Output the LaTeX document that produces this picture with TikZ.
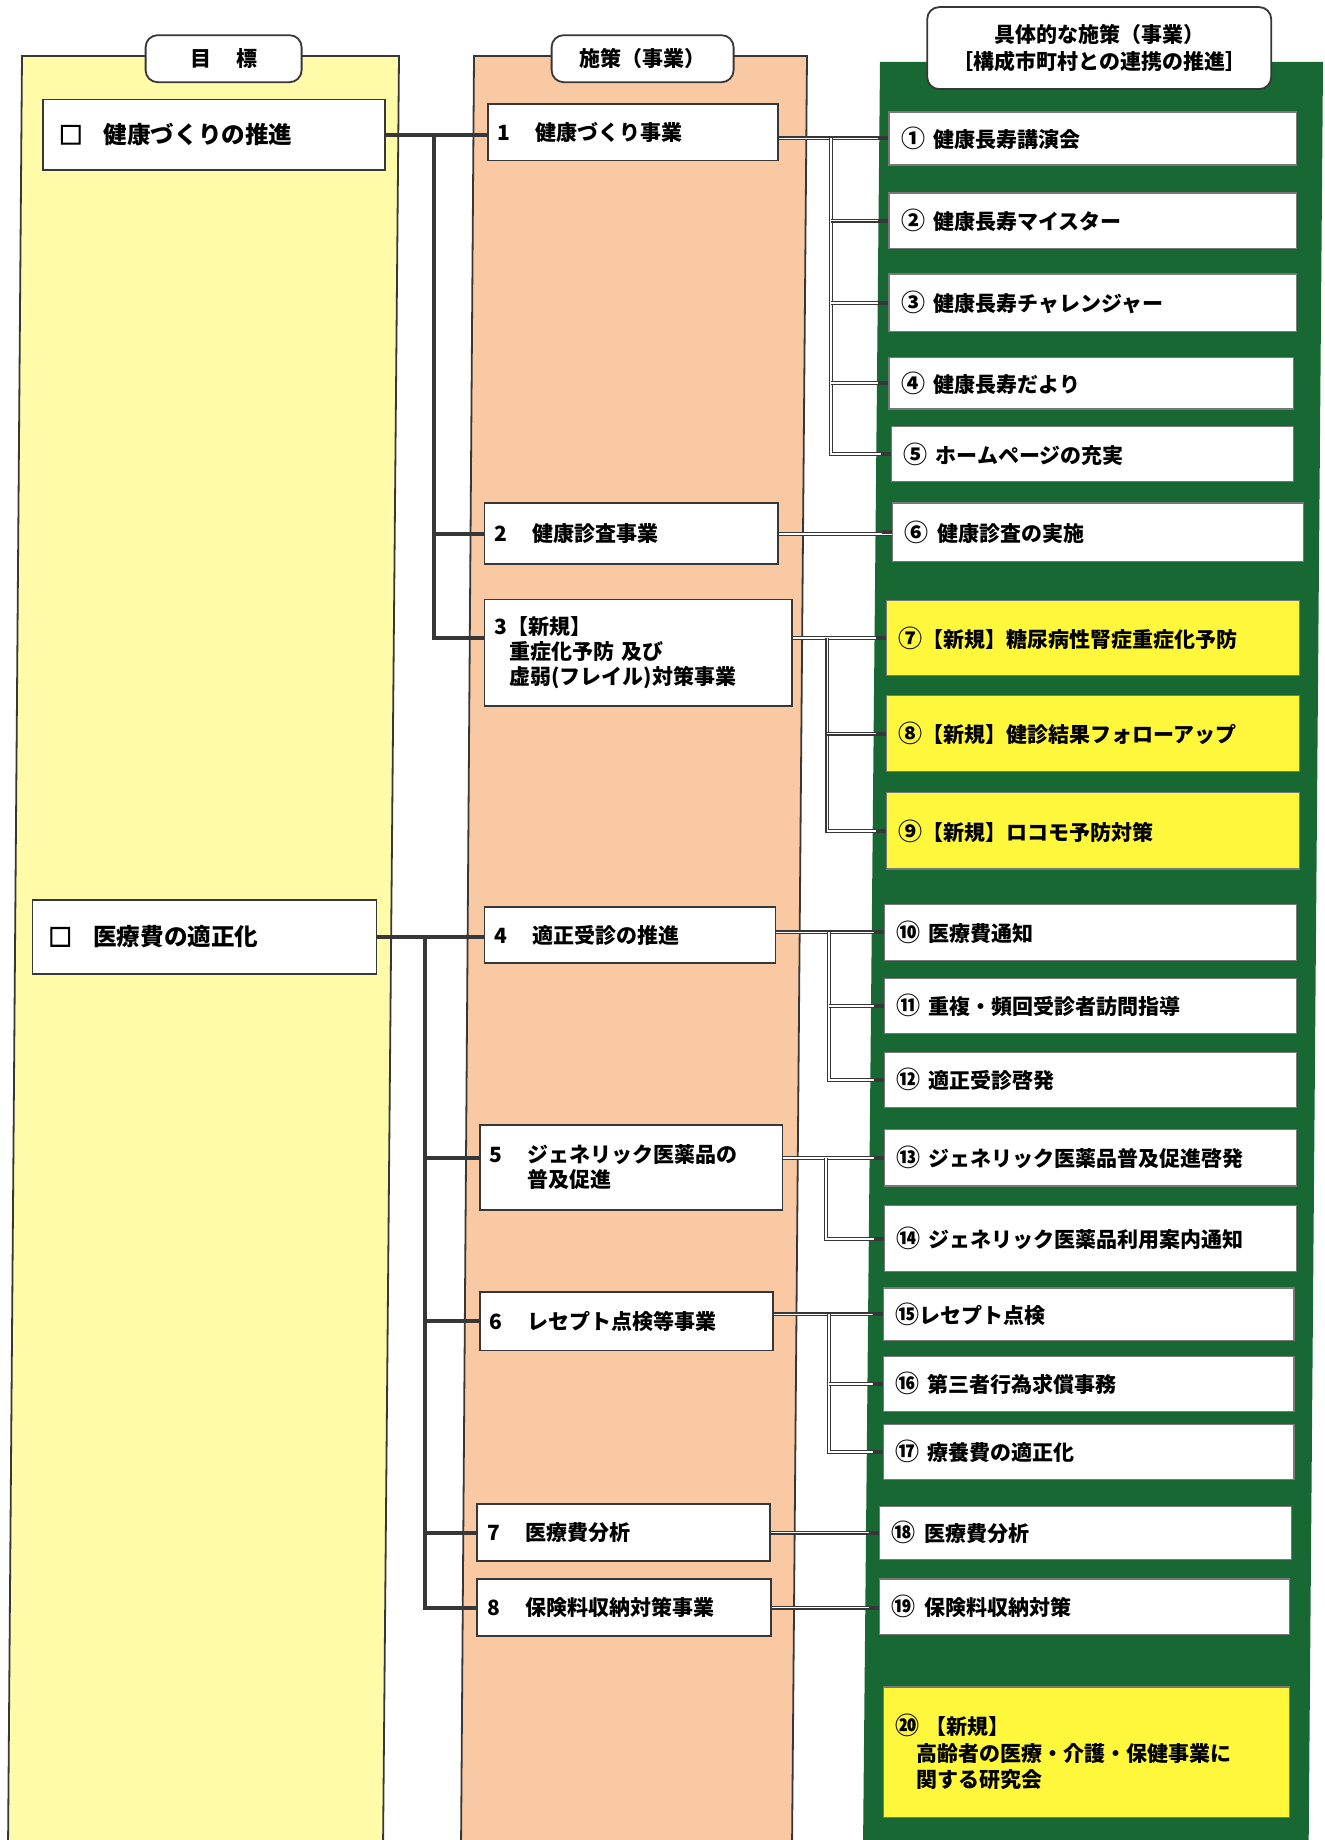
\documentclass[tikz,border=0pt]{standalone}
\usepackage{fontspec}
\setmainfont{Noto Sans CJK JP}
\newfontfamily\sqfont[FakeBold=4]{Noto Sans CJK JP}
\usetikzlibrary{calc}
\definecolor{colY}{RGB}{255,251,168}
\definecolor{colP}{RGB}{249,201,163}
\definecolor{colG}{RGB}{24,104,52}
\definecolor{colHY}{RGB}{255,247,60}
\definecolor{ink}{RGB}{55,55,55}
\definecolor{edge}{RGB}{120,120,120}
\newcommand\circnum[1]{{\fontsize{12}{12}\selectfont #1}}
\newcommand\sqmark{{\sqfont □}}
\begin{document}
\begin{tikzpicture}[x=1pt,y=-1pt,
  bx/.style={draw=ink, line width=0.9pt, fill=white, anchor=north west, inner ysep=0pt, align=left,
    font=\bfseries\fontsize{10.5}{12.5}\selectfont},
  goal/.style={bx, inner xsep=8pt, font=\bfseries\fontsize{11.8}{14}\selectfont},
  mid/.style={bx, inner xsep=5pt},
  item/.style={bx, draw=edge, line width=0.6pt, inner xsep=6pt},
  newitem/.style={item, fill=colHY},
  hdr/.style={draw=ink, line width=0.9pt, fill=white, rounded corners=6pt, align=center, inner sep=0pt,
    font=\bfseries\fontsize{10.5}{13.5}\selectfont},
  trunk/.style={draw=ink, line width=2pt},
  conn/.style={draw=ink, line width=0.55pt, double=white, double distance=0.9pt},
  stub/.style={draw=ink, line width=2pt},
]
\useasboundingbox (0,0) rectangle (662.5,920);
% columns
\fill[colY] (11,28) -- (199.5,28) -- (191.5,925) -- (4,925) -- cycle;
\draw[ink, line width=0.9pt] (4,925) -- (11,28) -- (199.5,28) -- (191.5,925);
\fill[colP] (237,28) -- (403.5,28) -- (396,925) -- (230.5,925) -- cycle;
\draw[ink, line width=0.9pt] (230.5,925) -- (237,28) -- (403.5,28) -- (396,925);
\fill[colG] (440,31) -- (661.5,31) -- (654.3,925) -- (431.5,925) -- cycle;

% headers
\node[hdr, minimum width=78pt, minimum height=23.5pt] (h1) at (111.8,29.35) {目\hspace{1.2em}標};
\node[hdr, minimum width=91pt, minimum height=23.5pt] (h2) at (321.3,29.35) {施策（事業）};
\node[hdr, minimum width=172pt, minimum height=41pt] (h3) at (549.6,24.05) {具体的な施策（事業）\\［構成市町村との連携の推進］};

% goals
\node[goal, text width=155pt, minimum height=35.2pt] (g1) at (21,49.3) {\sqmark\hspace{0.9em}健康づくりの推進};
\node[goal, text width=156pt, minimum height=37pt] (g2) at (15.8,449.5) {\sqmark\hspace{0.9em}医療費の適正化};

% measures
\node[mid, text width=135pt, minimum height=28.2pt] (m1) at (243.5,51.6) {\makebox[1.8em][l]{1}健康づくり事業};
\node[mid, text width=136.7pt, minimum height=30.5pt] (m2) at (241.8,251.2) {\makebox[1.8em][l]{2}健康診査事業};
\node[mid, text width=143.7pt, minimum height=53.4pt] (m3) at (241.8,299.3) {3【新規】\\\hspace*{0.7em}重症化予防 及び\\\hspace*{0.7em}虚弱(フレイル)対策事業};
\node[mid, text width=135.5pt, minimum height=28.2pt] (m4) at (241.8,453.0) {\makebox[1.8em][l]{4}適正受診の推進};
\node[mid, text width=141.4pt, minimum height=42.2pt] (m5) at (239.4,562.2) {\makebox[1.8em][l]{5}ジェネリック医薬品の\\\hspace*{1.8em}普及促進};
\node[mid, text width=136.7pt, minimum height=29.3pt] (m6) at (239.4,645.5) {\makebox[1.8em][l]{6}レセプト点検等事業};
\node[mid, text width=136.2pt, minimum height=28.2pt] (m7) at (238.2,751.7) {\makebox[1.8em][l]{7}医療費分析};
\node[mid, text width=136.7pt, minimum height=28.2pt] (m8) at (238.2,789.2) {\makebox[1.8em][l]{8}保険料収納対策事業};

% concrete items
\node[item, text width=191.6pt, minimum height=26.5pt] (it1) at (444.2,55.7) {\circnum{①}\hspace{0.4em}健康長寿講演会};
\node[item, text width=191.6pt, minimum height=27.6pt] (it2) at (444.2,96.2) {\circnum{②}\hspace{0.4em}健康長寿マイスター};
\node[item, text width=191.6pt, minimum height=28.8pt] (it3) at (444.2,136.7) {\circnum{③}\hspace{0.4em}健康長寿チャレンジャー};
\node[item, text width=190.4pt, minimum height=25.8pt] (it4) at (444.2,178.4) {\circnum{④}\hspace{0.4em}健康長寿だより};
\node[item, text width=189.2pt, minimum height=27.6pt] (it5) at (445.4,213.0) {\circnum{⑤}\hspace{0.4em}ホームページの充実};
\node[item, text width=193.3pt, minimum height=29.3pt] (it6) at (446,251.2) {\circnum{⑥}\hspace{0.4em}健康診査の実施};
\node[newitem, text width=194.6pt, minimum height=37.5pt] (it7) at (443,299.9) {\circnum{⑦}【新規】糖尿病性腎症重症化予防};
\node[newitem, text width=194.6pt, minimum height=38.1pt] (it8) at (443,347.4) {\circnum{⑧}【新規】健診結果フォローアップ};
\node[newitem, text width=194.6pt, minimum height=38.1pt] (it9) at (443,396.1) {\circnum{⑨}【新規】ロコモ予防対策};
\node[item, text width=193.9pt, minimum height=28.2pt] (it10) at (441.9,451.8) {\circnum{⑩}\hspace{0.4em}医療費通知};
\node[item, text width=193.9pt, minimum height=27.6pt] (it11) at (441.9,488.8) {\circnum{⑪}\hspace{0.4em}重複・頻回受診者訪問指導};
\node[item, text width=193.9pt, minimum height=27.6pt] (it12) at (441.9,525.8) {\circnum{⑫}\hspace{0.4em}適正受診啓発};
\node[item, text width=193.9pt, minimum height=28.2pt] (it13) at (441.9,564.5) {\circnum{⑬}\hspace{0.4em}ジェネリック医薬品普及促進啓発};
\node[item, text width=193.9pt, minimum height=32.9pt] (it14) at (441.9,602.6) {\circnum{⑭}\hspace{0.4em}ジェネリック医薬品利用案内通知};
\node[item, text width=193.4pt, minimum height=26.4pt] (it15) at (441.3,643.7) {\circnum{⑮}レセプト点検};
\node[item, text width=193.4pt, minimum height=27.5pt] (it16) at (441.3,677.8) {\circnum{⑯}\hspace{0.4em}第三者行為求償事務};
\node[item, text width=193.4pt, minimum height=27.6pt] (it17) at (441.3,711.8) {\circnum{⑰}\hspace{0.4em}療養費の適正化};
\node[item, text width=194pt, minimum height=26.4pt] (it18) at (439.5,752.9) {\circnum{⑱}\hspace{0.4em}医療費分析};
\node[item, text width=192.8pt, minimum height=27.6pt] (it19) at (439.5,789.2) {\circnum{⑲}\hspace{0.4em}保険料収納対策};
\node[newitem, text width=191pt, minimum height=65.2pt, font=\bfseries\fontsize{10.5}{13.2}\selectfont] (it20) at (441.3,843.2) {\circnum{⑳}\hspace{0.3em}【新規】\\\hspace*{1em}高齢者の医療・介護・保健事業に\\\hspace*{1em}関する研究会};

% trunk x positions
\coordinate (tx1) at (217,0);
\coordinate (tx2) at (212.4,0);
\coordinate (rx1) at (415.5,0);
\coordinate (rx3) at (413.7,0);
\coordinate (rx4) at (414.3,0);
\coordinate (rx5) at (413.1,0);
\coordinate (rx6) at (414.3,0);

% left connectors
\draw[trunk] (g1.east) -- (m1.west |- g1.east);
\draw[trunk] (tx1 |- g1.east) |- (m2.west);
\draw[trunk] (tx1 |- g1.east) |- (m3.west |- it7.west);
\draw[trunk] (g2.east) -- (m4.west |- g2.east);
\draw[trunk] (tx2 |- g2.east) |- (m8.west);
\draw[trunk] (tx2 |- it13.west) -- (m5.west |- it13.west);
\draw[trunk] (tx2 |- m6.west) -- (m6.west);
\draw[trunk] (tx2 |- m7.west) -- (m7.west);

% right connectors
\draw[conn] (m1.east |- it1.west) -- (it1.west);
\draw[conn] (rx1 |- it1.west) |- (it5.west);
\draw[conn] (rx1 |- it2.west) -- (it2.west);
\draw[conn] (rx1 |- it3.west) -- (it3.west);
\draw[conn] (rx1 |- it4.west) -- (it4.west);
\draw[conn] (m2.east) -- (it6.west |- m2.east);
\draw[conn] (m3.east |- it7.west) -- (it7.west);
\draw[conn] (rx3 |- it7.west) |- (it9.west);
\draw[conn] (rx3 |- it8.west) -- (it8.west);
\draw[conn] (m4.east |- it10.west) -- (it10.west);
\draw[conn] (rx4 |- it10.west) |- (it12.west);
\draw[conn] (rx4 |- it11.west) -- (it11.west);
\draw[conn] (m5.east |- it13.west) -- (it13.west);
\draw[conn] (rx5 |- it13.west) |- (it14.west);
\draw[conn] (m6.east |- it15.west) -- (it15.west);
\draw[conn] (rx6 |- it15.west) |- (it17.west);
\draw[conn] (rx6 |- it16.west) -- (it16.west);
\draw[conn] (m7.east) -- (it18.west |- m7.east);
\draw[conn] (m8.east) -- (it19.west |- m8.east);

% dark stubs where connectors meet the items
\foreach \n in {1,...,17} {\draw[stub] ([xshift=-5pt]it\n.west) -- (it\n.west);}
\draw[stub] ([xshift=-5pt]it18.west |- m7.east) -- (it18.west |- m7.east);
\draw[stub] ([xshift=-5pt]it19.west |- m8.east) -- (it19.west |- m8.east);
\end{tikzpicture}
\end{document}
